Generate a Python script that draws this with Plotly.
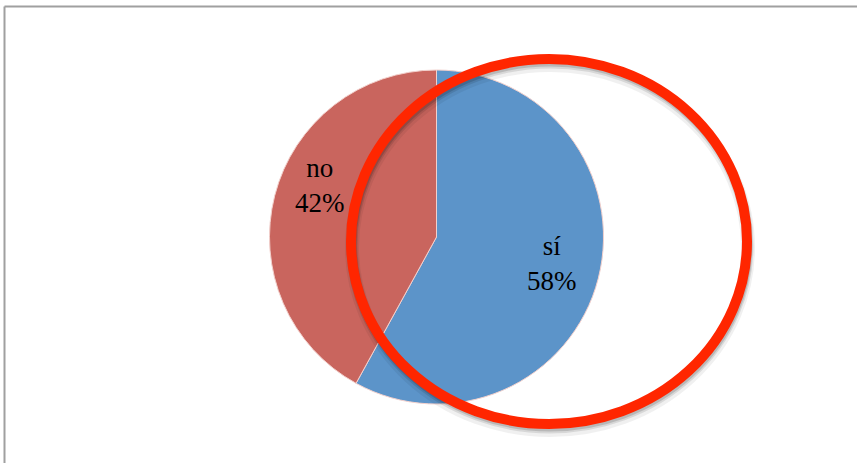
import plotly.graph_objects as go

# Survey answers
labels = ["sí", "no"]
values = [58, 42]
colors = ["#5C94C9", "#C9655E"]

W, H = 857, 463

def px(x):
    return x / W

def py(y):
    return 1 - y / H

total = sum(values)
pcts = [round(100 * v / total) for v in values]

fig = go.Figure()
fig.add_trace(go.Pie(
    labels=labels,
    values=values,
    sort=False,
    direction="clockwise",
    rotation=0,
    marker=dict(colors=colors, line=dict(color="#F2D0CC", width=1)),
    textinfo="none",
    hoverinfo="label+percent",
    showlegend=False,
    domain=dict(x=[px(269), px(604)], y=[py(404), py(70)]),
))

# Slice labels
label_pos = {"sí": (552, 263), "no": (320, 186)}
for lab, p in zip(labels, pcts):
    x, y = label_pos[lab]
    fig.add_annotation(
        x=px(x), y=py(y), xref="paper", yref="paper",
        text=f"{lab}<br>{p}%", showarrow=False,
        font=dict(family="Liberation Serif, serif", size=27, color="#000000"),
        align="center", xanchor="center", yanchor="middle",
    )

shapes = []
# Frame lines on the top and left
shapes.append(dict(type="line", xref="paper", yref="paper",
                   x0=px(4.5), y0=0, x1=px(4.5), y1=py(6.5),
                   line=dict(color="#A0A0A0", width=2)))
shapes.append(dict(type="line", xref="paper", yref="paper",
                   x0=px(4.5), y0=py(6.5), x1=1, y1=py(6.5),
                   line=dict(color="#A0A0A0", width=2)))

# Highlight ellipse with a soft drop shadow
cx, cy, rx, ry = 549, 241.5, 198, 182.5
for dy, op, w in [(6, 0.06, 14), (4, 0.10, 11), (3, 0.14, 9)]:
    shapes.append(dict(type="circle", xref="paper", yref="paper",
                       x0=px(cx - rx + 1), x1=px(cx + rx + 1),
                       y0=py(cy + ry + dy), y1=py(cy - ry + dy),
                       line=dict(color=f"rgba(0,0,0,{op})", width=w)))
shapes.append(dict(type="circle", xref="paper", yref="paper",
                   x0=px(cx - rx), x1=px(cx + rx),
                   y0=py(cy + ry), y1=py(cy - ry),
                   line=dict(color="#FF2600", width=10)))

fig.update_layout(
    width=W, height=H,
    margin=dict(l=0, r=0, t=0, b=0),
    paper_bgcolor="white", plot_bgcolor="white",
    shapes=shapes,
)

fig.write_html("out.html")
